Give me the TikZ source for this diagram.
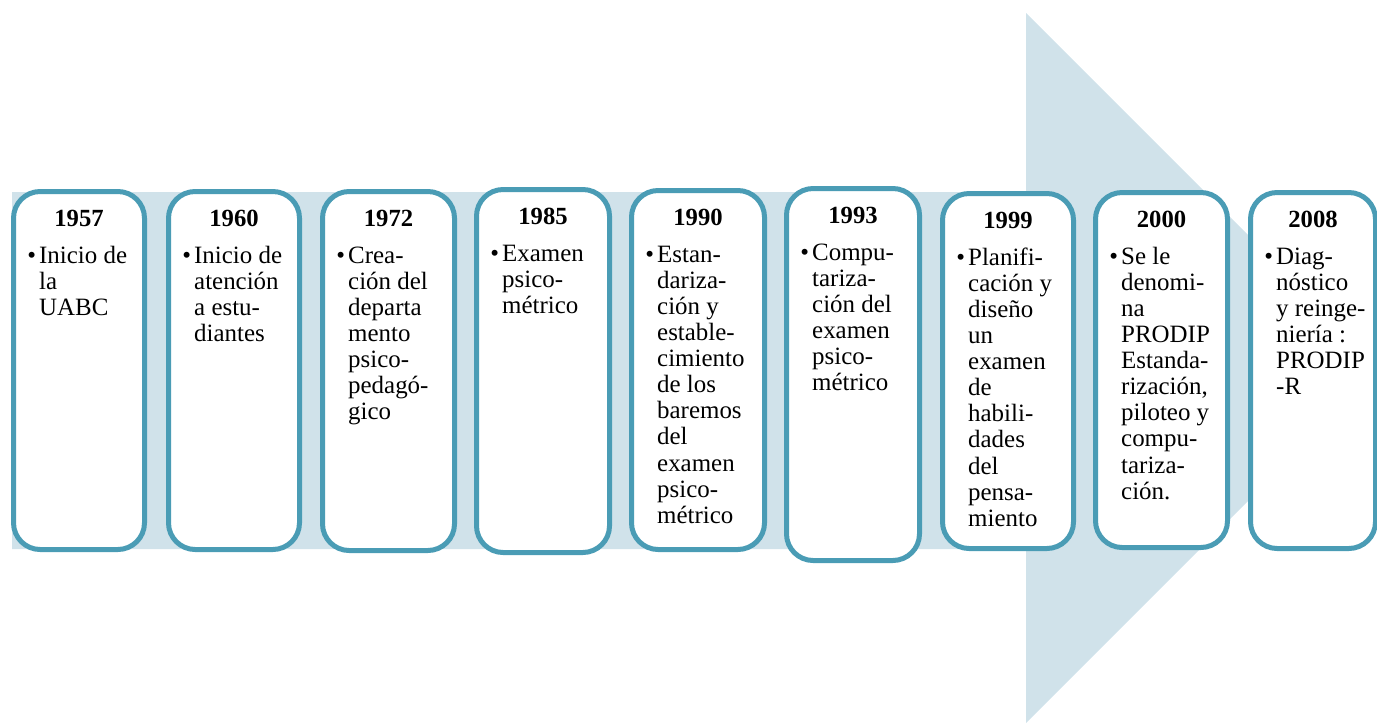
\documentclass[tikz,border=0pt]{standalone}
\usepackage{fontspec}
\setmainfont{Liberation Serif}
\definecolor{bandcol}{HTML}{D0E2EA}
\definecolor{framecol}{HTML}{4A9CB5}
\tikzset{
  tbox/.style={draw=framecol, line width=3.75pt, fill=white, rounded corners=20pt, inner sep=0pt, shape=rectangle},
  yeartext/.style={font=\fontsize{18.5}{20}\selectfont\bfseries, inner sep=0pt},
  bodytext/.style={font=\fontsize{18.7}{19.6}\selectfont, inner sep=0pt}
}
\newcommand\tlbox[7]{%
  \pgfmathsetlengthmacro\tlW{#4*0.75pt}%
  \pgfmathsetlengthmacro\tlH{#5*0.75pt}%
  \pgfmathsetmacro\tlT{#3-#5/2-2.5}%
  \pgfmathsetmacro\tlL{#2-#4/2-2.5}%
  \node[tbox, minimum width=\tlW, minimum height=\tlH] (#1) at (#2,#3) {};
  \node[yeartext, anchor=base] (#1-year) at (#2,\tlT+37.5) {#6};
  \node[bodytext, anchor=base west] (#1-text) at (\tlL+16,\tlT+74)
    {\renewcommand\arraystretch{1}\begin{tabular}[t]{@{}l@{\hspace{2.4pt}}l@{}}#7\end{tabular}};
}
\begin{document}
\begin{tikzpicture}[x=0.75pt,y=-0.75pt]
\path[use as bounding box] (0,0) rectangle (1377,725);
\clip (0,0) rectangle (1377,725);
\fill[bandcol] (12,192) -- (1026,192) -- (1026,13) -- (1381,368) -- (1026,723) -- (1026,549) -- (12,549) -- cycle;
\tlbox{b1}{79}{370.5}{131}{358}{1957}{•&Inicio de\\&la\\&UABC}
\tlbox{b2}{234}{370.5}{131}{358}{1960}{•&Inicio de\\&atención\\&a estu-\\&diantes}
\tlbox{b3}{388.5}{371}{132}{359}{1972}{•&Crea-\\&ción del\\&departa\\&mento\\&psico-\\&pedagó-\\&gico}
\tlbox{b4}{543}{371}{133}{363}{1985}{•&Examen\\&psico-\\&métrico}
\tlbox{b5}{698}{370}{133}{359}{1990}{•&Estan-\\&dariza-\\&ción y\\&estable-\\&cimiento\\&de los\\&baremos\\&del\\&examen\\&psico-\\&métrico}
\tlbox{b6}{853}{374.5}{133}{372}{1993}{•&Compu-\\&tariza-\\&ción del\\&examen\\&psico-\\&métrico}
\tlbox{b7}{1008}{371}{131}{355}{1999}{•&Planifi-\\&cación y\\&diseño\\&un\\&examen\\&de\\&habili-\\&dades\\&del\\&pensa-\\&miento}
\tlbox{b8}{1161.5}{370}{132}{355}{2000}{•&Se le\\&denomi-\\&na\\&PRODIP\\&Estanda-\\&rización,\\&piloteo y\\&compu-\\&tariza-\\&ción.}
\tlbox{b9}{1313}{370.5}{125}{356}{2008}{•&Diag-\\&nóstico\\&y reinge-\\&niería :\\&PRODIP\\&-R}
\end{tikzpicture}
\end{document}
